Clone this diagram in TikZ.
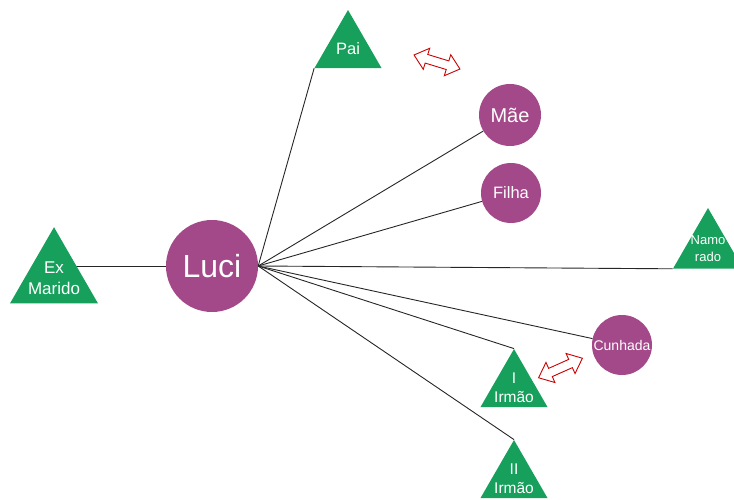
\documentclass[tikz,border=0pt]{standalone}
\usepackage{fontspec}
\setmainfont{Liberation Sans}
\usetikzlibrary{shapes.geometric,backgrounds}
\definecolor{verde}{RGB}{22,160,92}
\definecolor{roxo}{RGB}{163,72,137}
\tikzset{
		pessoa/.style={circle, fill=roxo, text=white, inner sep=0pt,
			minimum size=#1},
		homem/.style={regular polygon, regular polygon sides=3, fill=verde,
			inner sep=0pt, minimum size=#1},
		rotulo/.style={text=white, align=center, inner sep=0pt},
		laco/.style={draw=black!85, line width=0.9pt},
		conflito/.pic={
			\draw[red!80!black, fill=white, line width=0.9pt, line join=miter]
				(-24,0) -- (-11,11) -- (-11,4.5) -- (11,4.5) -- (11,11)
				-- (24,0) -- (11,-11) -- (11,-4.5) -- (-11,-4.5)
				-- (-11,-11) -- cycle;
			},
		}
\begin{document}
\begin{tikzpicture}[x=1pt, y=-1pt]
				\useasboundingbox (0,0) rectangle (734,500);
				\node[pessoa=92pt, font=\fontsize{32}{34}\selectfont] (luci) at (212,266) {Luci};
				\node[pessoa=62pt, font=\fontsize{20}{22}\selectfont] (mae) at (510,115) {Mãe};
				\node[pessoa=60pt, font=\fontsize{16.5}{18}\selectfont] (filha) at (511,193) {Filha};
				\node[pessoa=60pt, font=\fontsize{14}{16}\selectfont] (cunhada) at (622,345) {Cunhada};

				\node[homem=77.4pt, label={[rotulo, font=\fontsize{16.5}{20}\selectfont]center:Pai}] (pai) at (348,48.7) {};
				\node[homem=101.6pt, label={[rotulo, font=\fontsize{17}{21}\selectfont]center:Ex\\Marido}] (exmarido) at (54,278) {};
				\node[homem=80.8pt, label={[rotulo, font=\fontsize{13}{17}\selectfont]center:Namo\\rado}] (namorado) at (708,248.4) {};
				\node[homem=77.4pt, label={[rotulo, font=\fontsize{15.5}{18.5}\selectfont]center:I\\Irmão}] (irmaoI) at (514,387.7) {};
				\node[homem=77.4pt, label={[rotulo, font=\fontsize{15.5}{18.5}\selectfont]center:II\\Irmão}] (irmaoII) at (514,478.7) {};

				\pic[rotate=-17] (paimae) at (437,62) {conflito};
				\pic[rotate=24] (irmaocunhada) at (560.5,368) {conflito};

				\begin{scope}[on background layer]
				\draw[laco] (luci.west) -- (luci.west -| exmarido.center);
				\draw[laco] (luci.east) -- (pai.corner 2);
				\draw[laco] (luci.east) -- (mae);
				\draw[laco] (luci.east) -- (filha);
				\draw[laco] (luci.east) -- (namorado.corner 2);
				\draw[laco] (luci.east) -- (cunhada);
				\draw[laco] (luci.east) -- (irmaoI.corner 1);
				\draw[laco] (luci.east) -- (irmaoII.corner 1);
				\end{scope}
			\end{tikzpicture}
\end{document}
